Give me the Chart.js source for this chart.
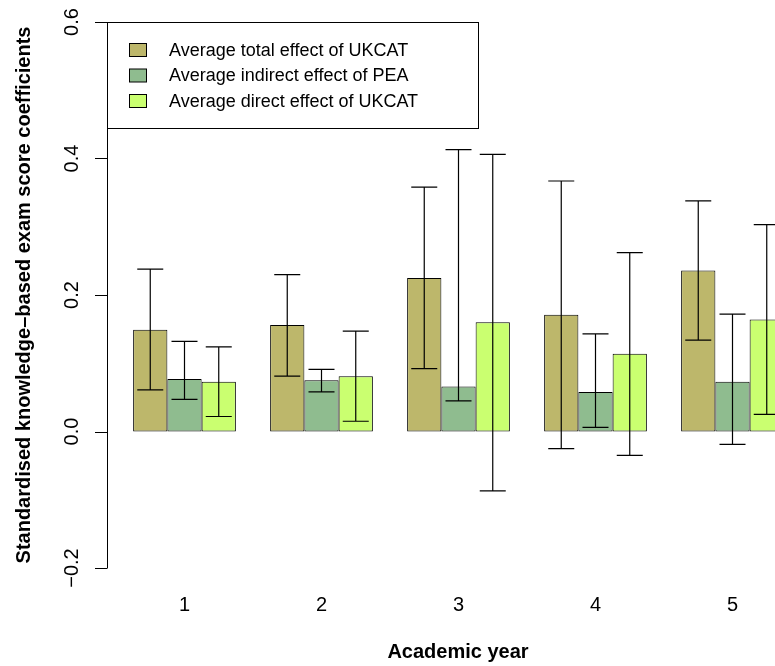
<!DOCTYPE html>
<html>
<head>
<meta charset="utf-8">
<script src="https://cdn.jsdelivr.net/npm/chart.js@4"></script>
<style>
  html, body { margin: 0; padding: 0; background: #fff; overflow: hidden; }
  #wrap { width: 820px; height: 666px; }
</style>
</head>
<body>
<div id="wrap"><canvas id="chart" width="820" height="666"></canvas></div>
<script>
// Datos
const years = ['1', '2', '3', '4', '5'];
const seriesNames = [
  'Average total effect of UKCAT',
  'Average indirect effect of PEA',
  'Average direct effect of UKCAT'
];
const seriesColors = ['#BDB76B', '#8FBC8F', '#CAFF70'];

const totalEffect = [0.149, 0.156, 0.225, 0.171, 0.236];
const totalLow    = [0.061, 0.081, 0.092, -0.025, 0.134];
const totalHigh   = [0.238, 0.230, 0.358, 0.367, 0.338];

const indirectEffect = [0.077, 0.075, 0.066, 0.058, 0.073];
const indirectLow    = [0.047, 0.058, 0.045, 0.006, -0.019];
const indirectHigh   = [0.132, 0.091, 0.413, 0.143, 0.172];

const directEffect = [0.073, 0.081, 0.160, 0.114, 0.164];
const directLow    = [0.022, 0.015, -0.087, -0.035, 0.025];
const directHigh   = [0.124, 0.147, 0.406, 0.262, 0.303];

const yTicks = [-0.2, 0.0, 0.2, 0.4, 0.6];
const yTickLabels = ['\u22120.2', '0.0', '0.2', '0.4', '0.6'];

const errLow = [totalLow, indirectLow, directLow];
const errHigh = [totalHigh, indirectHigh, directHigh];

const FONT = 'Liberation Sans, Arial, Helvetica, sans-serif';

// Barras de error
const errorBarPlugin = {
  id: 'errorBars',
  afterDatasetsDraw(chart) {
    const ctx = chart.ctx;
    const yScale = chart.scales.y;
    ctx.save();
    ctx.strokeStyle = '#000';
    ctx.lineWidth = 1.2;
    chart.data.datasets.forEach((ds, i) => {
      const meta = chart.getDatasetMeta(i);
      meta.data.forEach((bar, j) => {
        const x = bar.x;
        const yLo = yScale.getPixelForValue(errLow[i][j]);
        const yHi = yScale.getPixelForValue(errHigh[i][j]);
        const cap = 13;
        ctx.beginPath();
        ctx.moveTo(x, yLo); ctx.lineTo(x, yHi);
        ctx.moveTo(x - cap, yLo); ctx.lineTo(x + cap, yLo);
        ctx.moveTo(x - cap, yHi); ctx.lineTo(x + cap, yHi);
        ctx.stroke();
      });
    });
    ctx.restore();
  }
};

// Ejes, títulos y leyenda al estilo R
const axesPlugin = {
  id: 'rAxes',
  afterDraw(chart) {
    const ctx = chart.ctx;
    const area = chart.chartArea;
    const yScale = chart.scales.y;
    const xScale = chart.scales.x;
    const axisX = area.left - 9;
    ctx.save();
    ctx.strokeStyle = '#000';
    ctx.fillStyle = '#000';
    ctx.lineWidth = 1;

    // eje Y
    const yTop = yScale.getPixelForValue(yTicks[yTicks.length - 1]);
    const yBot = yScale.getPixelForValue(yTicks[0]);
    ctx.beginPath();
    ctx.moveTo(axisX + 0.5, yTop); ctx.lineTo(axisX + 0.5, yBot);
    yTicks.forEach(v => {
      const py = Math.round(yScale.getPixelForValue(v)) + 0.5;
      ctx.moveTo(axisX + 0.5, py); ctx.lineTo(axisX - 12, py);
    });
    ctx.stroke();

    ctx.font = '20px ' + FONT;
    ctx.textAlign = 'center';
    ctx.textBaseline = 'middle';
    yTicks.forEach((v, k) => {
      const py = yScale.getPixelForValue(v);
      ctx.save();
      ctx.translate(72, py);
      ctx.rotate(-Math.PI / 2);
      ctx.fillText(yTickLabels[k], 0, 0);
      ctx.restore();
    });

    // etiquetas X
    years.forEach((lab, j) => {
      ctx.fillText(lab, xScale.getPixelForValue(j), 605);
    });

    // títulos
    ctx.font = 'bold 20px ' + FONT;
    ctx.fillText('Academic year', 458, 652);
    ctx.save();
    ctx.translate(24, (yTop + yBot) / 2);
    ctx.rotate(-Math.PI / 2);
    ctx.fillText('Standardised knowledge\u2013based exam score coefficients', 0, 0);
    ctx.restore();

    // leyenda
    const lx = axisX, ly = yTop;
    ctx.fillStyle = '#fff';
    ctx.fillRect(lx, ly, 371, 106);
    ctx.strokeRect(lx + 0.5, ly + 0.5, 371, 106);
    ctx.font = '18px ' + FONT;
    ctx.textAlign = 'left';
    chart.data.datasets.forEach((ds, i) => {
      const cy = ly + 28 + i * 25.5;
      ctx.fillStyle = ds.backgroundColor;
      ctx.fillRect(lx + 22.5, cy - 6.5, 17, 13);
      ctx.strokeRect(lx + 22.5, cy - 6.5, 17, 13);
      ctx.fillStyle = '#000';
      ctx.fillText(ds.label, lx + 62, cy + 1);
    });
    ctx.restore();
  }
};

const seriesValues = [totalEffect, indirectEffect, directEffect];

new Chart(document.getElementById('chart').getContext('2d'), {
  type: 'bar',
  data: {
    labels: years,
    datasets: seriesValues.map((vals, i) => ({
      label: seriesNames[i],
      data: vals,
      backgroundColor: seriesColors[i],
      borderColor: '#000',
      borderWidth: 1,
      borderSkipped: false,
      categoryPercentage: 0.75,
      barPercentage: 1.0
    }))
  },
  options: {
    responsive: false,
    animation: false,
    devicePixelRatio: 1,
    layout: { padding: { left: 116, right: 19, top: 22, bottom: 98 } },
    plugins: {
      legend: { display: false },
      tooltip: { enabled: false }
    },
    scales: {
      x: { display: false, offset: true },
      y: { display: false, min: -0.2, max: 0.6 }
    }
  },
  plugins: [errorBarPlugin, axesPlugin]
});
</script>
</body>
</html>
